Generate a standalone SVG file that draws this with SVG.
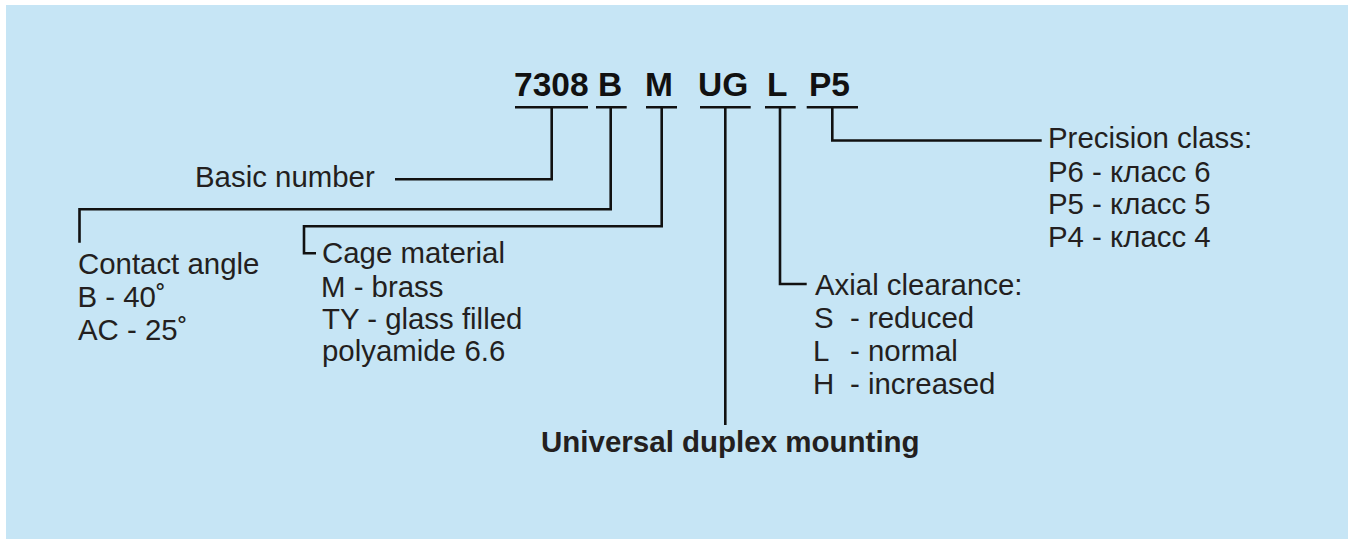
<svg xmlns="http://www.w3.org/2000/svg" width="1351" height="539" viewBox="0 0 1351 539">
<style>
.bg{fill:#c6e5f5}
.t{font-family:"Liberation Sans",Arial,sans-serif;font-size:29.4px;fill:#231f20}
.b{font-family:"Liberation Sans",Arial,sans-serif;font-size:29.5px;font-weight:bold;fill:#231f20}
.code{font-family:"Liberation Sans",Arial,sans-serif;font-size:33.5px;font-weight:bold;fill:#111}
.ln{fill:none;stroke:#111;stroke-width:2.6;stroke-linejoin:miter;stroke-linecap:butt}
</style>
<rect x="0" y="0" width="1351" height="539" fill="#ffffff"/>
<rect class="bg" x="6" y="5" width="1342" height="534"/>
<g id="code">
<text class="code" x="514" y="95.7">7308</text>
<text class="code" x="598" y="95.7">B</text>
<text class="code" x="645" y="95.7">M</text>
<text class="code" x="698" y="95.7">UG</text>
<text class="code" x="767" y="95.7">L</text>
<text class="code" x="809" y="95.7">P5</text>
</g>
<g id="connectors">
<path class="ln" d="M515,107.3 H588 M596,107.3 H626.7 M646,107.3 H677 M700,107.3 H750.7 M765,107.3 H795.7 M806.7,107.3 H858"/>
<path class="ln" d="M551.7,107.3 V179.3 H395"/>
<path class="ln" d="M610.7,107.3 V209.3 H79.5 V242.7"/>
<path class="ln" d="M661.7,107.3 V226.3 H304 V253.3 H316"/>
<path class="ln" d="M725.3,107.3 V425"/>
<path class="ln" d="M780,107.3 V284 H806.7"/>
<path class="ln" d="M832.3,107.3 V140.5 H1041.7"/>
</g>
<g id="basic-number">
<text class="t" x="195" y="187.3">Basic number</text>
</g>
<g id="contact-angle">
<text class="t" x="78" y="274.3">Contact angle</text>
<text class="t" x="77.5" y="307.3">B - 40˚</text>
<text class="t" x="78" y="340">AC - 25˚</text>
</g>
<g id="cage-material">
<text class="t" x="322" y="263.3">Cage material</text>
<text class="t" x="321" y="296.7">M - brass</text>
<text class="t" x="322" y="328.5">TY - glass filled</text>
<text class="t" y="360.5"><tspan x="322">polyamide</tspan><tspan x="464.5">6.6</tspan></text>
</g>
<g id="universal-duplex">
<text class="b" x="541" y="451.5">Universal duplex mounting</text>
</g>
<g id="axial-clearance">
<text class="t" x="815" y="295">Axial clearance:</text>
<text class="t" y="328.3"><tspan x="814">S</tspan><tspan x="850">- reduced</tspan></text>
<text class="t" y="360.5"><tspan x="813">L</tspan><tspan x="850">- normal</tspan></text>
<text class="t" y="394"><tspan x="813">H</tspan><tspan x="850">- increased</tspan></text>
</g>
<g id="precision-class">
<text class="t" x="1048" y="148.3">Precision class:</text>
<text class="t" x="1048" y="181.7">P6 - класс 6</text>
<text class="t" x="1048" y="214">P5 - класс 5</text>
<text class="t" x="1048" y="246.7">P4 - класс 4</text>
</g>
</svg>
